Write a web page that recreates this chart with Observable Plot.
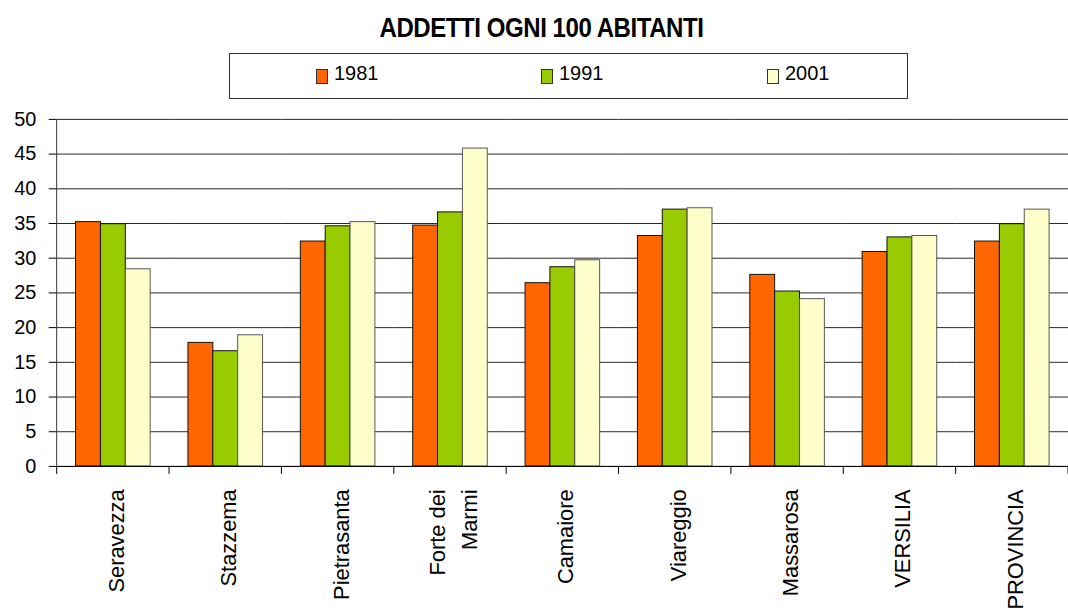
<!DOCTYPE html>
<html>
<head>
<meta charset="utf-8">
<script src="https://cdn.jsdelivr.net/npm/d3@7"></script>
<script src="https://cdn.jsdelivr.net/npm/@observablehq/plot@0.6"></script>
<style>
  html, body { margin: 0; padding: 0; background: #fff; overflow: hidden; width: 1068px; height: 608px;
    font-family: "Liberation Sans", Arial, sans-serif; color: #000; }
  #title { position: absolute; left: 0; width: 1083px; top: 15px; text-align: center;
    font-weight: bold; font-size: 27px; line-height: 27px; letter-spacing: -0.5px;
    transform: scaleX(0.89); transform-origin: 541.5px 0; }
  #legend { position: absolute; left: 229px; top: 53px; width: 679px; height: 46px;
    border: 1px solid #333; box-sizing: border-box; }
  #legend .sw { position: absolute; top: 15px; width: 12px; height: 15px; box-sizing: border-box; border: 1px solid #333; }
  #legend .lb { position: absolute; top: 9px; font-size: 20px; line-height: 20px; }
  #chart { position: absolute; left: 0; top: 100px; }
</style>
</head>
<body>
<div id="title">ADDETTI OGNI 100 ABITANTI</div>
<div id="legend"></div>
<div id="chart"></div>
<script>
// Employees per 100 inhabitants, by municipality and census year
const categories = ["Seravezza", "Stazzema", "Pietrasanta", "Forte dei Marmi", "Camaiore", "Viareggio", "Massarosa", "VERSILIA", "PROVINCIA"];
const tickLabels = ["Seravezza", "Stazzema", "Pietrasanta", "Forte dei\nMarmi", "Camaiore", "Viareggio", "Massarosa", "VERSILIA", "PROVINCIA"];
const years = ["1981", "1991", "2001"];
const values1981 = [35.2, 17.8, 32.4, 34.7, 26.4, 33.2, 27.6, 30.9, 32.4];
const values1991 = [34.9, 16.6, 34.6, 36.6, 28.7, 37.0, 25.2, 33.0, 34.9];
const values2001 = [28.4, 18.9, 35.2, 45.8, 29.7, 37.2, 24.1, 33.2, 37.0];
const yTicks = [0, 5, 10, 15, 20, 25, 30, 35, 40, 45, 50];
const colors = ["#ff6600", "#99cc00", "#ffffcc"];

const series = [values1981, values1991, values2001];
const rows = [];
categories.forEach((c, i) => years.forEach((yr, j) => rows.push({category: c, year: yr, value: series[j][i]})));

// legend
const legend = document.getElementById("legend");
const swatchLeft = [86, 311, 537];
years.forEach((yr, j) => {
  const sw = document.createElement("div");
  sw.className = "sw";
  sw.style.left = swatchLeft[j] + "px";
  sw.style.background = colors[j];
  legend.appendChild(sw);
  const lb = document.createElement("div");
  lb.className = "lb";
  lb.style.left = (swatchLeft[j] + 18) + "px";
  lb.textContent = yr;
  legend.appendChild(lb);
});

const labelOf = new Map(categories.map((c, i) => [c, tickLabels[i]]));

const chart = Plot.plot({
  width: 1074,
  height: 508,
  marginLeft: 56,
  marginRight: 0,
  marginTop: 19,
  marginBottom: 140,
  style: {fontFamily: "'Liberation Sans', Arial, sans-serif", background: "transparent", overflow: "visible", color: "#000"},
  fx: {domain: categories, padding: 0, label: null},
  x: {domain: years, paddingInner: 0, paddingOuter: 0.74, axis: null},
  y: {domain: [0, 50], label: null},
  color: {domain: years, range: colors},
  marks: [
    Plot.gridY(yTicks, {stroke: "#000", strokeOpacity: 0.85}),
    Plot.axisY(yTicks, {tickSize: 8, tickPadding: 13, fontSize: 20, stroke: "#000", label: null}),
    Plot.barY(rows.filter(d => d.year !== "2001"), {fx: "category", x: "year", y: "value", fill: "year", stroke: "#111", strokeWidth: 1, inset: 0}),
    Plot.barY(rows.filter(d => d.year === "2001"), {fx: "category", x: "year", y: "value", fill: "year", stroke: "#555", strokeWidth: 1, inset: 0}),
    Plot.ruleY([0], {stroke: "#000"}),
    Plot.axisFx({anchor: "bottom", tickSize: 0, tickPadding: 23, tickRotate: -90, fontSize: 22, lineHeight: 1.5, label: null,
      textAnchor: "end", tickFormat: d => labelOf.get(d)})
  ]
});

document.getElementById("chart").appendChild(chart);

// category boundary ticks and the vertical value axis line
const fxScale = chart.scale("fx");
const yScale = chart.scale("y");
const y0 = yScale.apply(0);
const yTop = yScale.apply(50);
const g = d3.select(chart).append("g").attr("stroke", "#000").attr("stroke-width", 1);
const bounds = categories.map(c => fxScale.apply(c));
bounds.push(fxScale.apply(categories[categories.length - 1]) + fxScale.bandwidth);
bounds.forEach(xb => {
  g.append("line").attr("x1", xb).attr("x2", xb).attr("y1", y0).attr("y2", y0 + 8);
});
g.append("line").attr("stroke", "#333").attr("x1", bounds[0]).attr("x2", bounds[0]).attr("y1", yTop).attr("y2", y0);
</script>
</body>
</html>
